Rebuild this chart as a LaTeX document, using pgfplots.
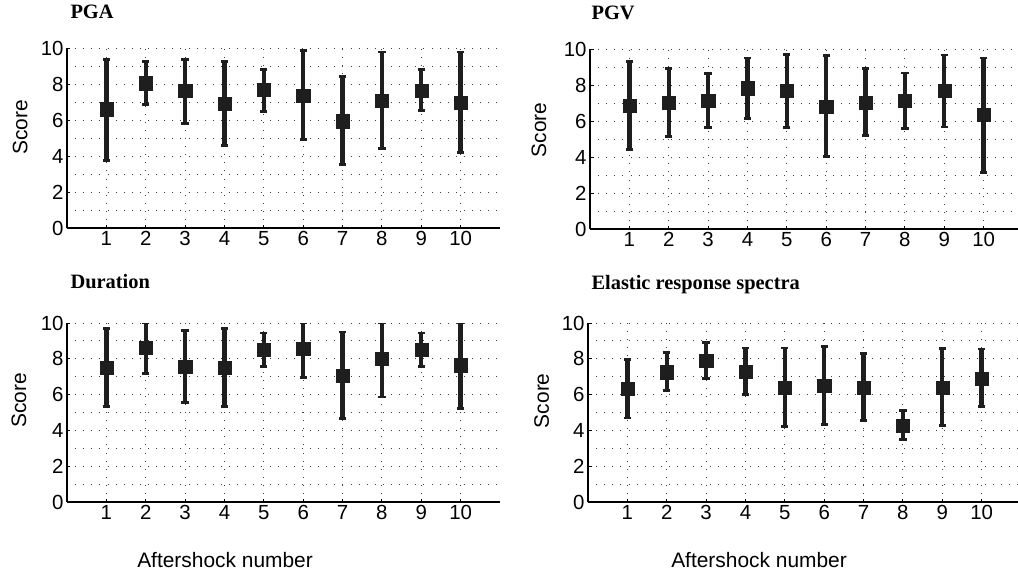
\documentclass[border=0pt]{standalone}
\usepackage{pgfplots}
\usepackage{pgfplotstable}
\pgfplotsset{compat=1.18}
\usepackage{fontspec}
\setmainfont{Liberation Sans}
\newfontfamily\titlefont{Liberation Serif}

\definecolor{barcol}{HTML}{1E1E1E}

\pgfplotstableread{
x y hi lo
1 6.60 9.38 3.75
2 8.05 9.25 6.85
3 7.63 9.38 5.80
4 6.90 9.25 4.60
5 7.68 8.80 6.48
6 7.37 9.85 4.90
7 5.94 8.43 3.52
8 7.07 9.78 4.40
9 7.65 8.80 6.52
10 6.98 9.78 4.20
}\pga

\pgfplotstableread{
x y hi lo
1 6.85 9.30 4.42
2 7.00 8.90 5.12
3 7.15 8.62 5.64
4 7.83 9.50 6.13
5 7.70 9.69 5.62
6 6.81 9.63 4.01
7 7.03 8.90 5.21
8 7.11 8.67 5.58
9 7.70 9.67 5.67
10 6.37 9.50 3.15
}\pgv

\pgfplotstableread{
x y hi lo
1 7.52 9.68 5.34
2 8.64 10.00 7.17
3 7.58 9.59 5.55
4 7.50 9.68 5.34
5 8.51 9.44 7.58
6 8.55 10.00 6.95
7 7.06 9.50 4.66
8 8.03 10.00 5.87
9 8.51 9.44 7.58
10 7.65 10.00 5.21
}\dur

\pgfplotstableread{
x y hi lo
1 6.33 7.95 4.69
2 7.26 8.36 6.22
3 7.91 8.92 6.91
4 7.30 8.60 6.00
5 6.41 8.60 4.23
6 6.50 8.70 4.32
7 6.41 8.29 4.56
8 4.28 5.10 3.48
9 6.41 8.57 4.26
10 6.91 8.55 5.34
}\ers

\pgfplotsset{
  myax/.style={
    scale only axis, width=433bp, height=180bp,
    xmin=0, xmax=11, ymin=0, ymax=10,
    xtick={1,...,10}, ytick={0,2,...,10}, minor ytick={1,3,...,9},
    grid=both,
    major grid style={black!75, line width=0.9bp, dash pattern=on 0.9bp off 7.2bp},
    minor grid style={black!75, line width=0.9bp, dash pattern=on 0.9bp off 7.2bp},
    axis x line=bottom, axis y line=left,
    axis line style={-, line width=1.2bp, black},
    tick align=inside,
    major tick length=3.5bp, minor tick length=0pt,
    tick style={black, line width=1bp},
    tick label style={font=\fontsize{20.5}{24}\selectfont},
    label style={font=\fontsize{21}{24}\selectfont},
    /pgf/number format/assume math mode=true,
    ylabel={Score},
    title style={anchor=base west, font=\titlefont\bfseries\fontsize{20.5}{24}\selectfont},
  },
  errplot/.style={
    only marks, mark=square*, mark size=6.6bp,
    mark options={fill=barcol, draw=barcol, line width=0.3bp},
    error bars/.cd, y dir=both, y explicit,
    error mark=|,
    error bar style={line width=4.3bp, barcol},
    error mark options={line width=2.7bp, mark size=3.6bp, barcol},
  },
}

\begin{document}
\begin{tikzpicture}
\useasboundingbox (0,0) rectangle (1018bp,-574bp);

\begin{axis}[myax, at={(67bp,-228bp)}, anchor=south west,
  title={PGA}, title style={at={(axis description cs:0,1)}, yshift=24bp},
  ylabel style={at={(axis description cs:-0.108,0.558)}, anchor=center}]
\addplot[errplot] table[x=x, y=y, y error plus expr=\thisrow{hi}-\thisrow{y}, y error minus expr=\thisrow{y}-\thisrow{lo}] {\pga};
\end{axis}

\begin{axis}[myax, at={(590bp,-229bp)}, anchor=south west,
  title={PGV}, title style={at={(axis description cs:0,1)}, yshift=24bp, xshift=-2bp},
  ylabel style={at={(axis description cs:-0.118,0.55)}, anchor=center}]
\addplot[errplot] table[x=x, y=y, y error plus expr=\thisrow{hi}-\thisrow{y}, y error minus expr=\thisrow{y}-\thisrow{lo}] {\pgv};
\end{axis}

\begin{axis}[myax, at={(67bp,-502bp)}, anchor=south west, height=179bp,
  title={Duration}, title style={at={(axis description cs:0,1)}, yshift=28.7bp},
  ylabel style={at={(axis description cs:-0.111,0.568)}, anchor=center},
  xlabel={Aftershock number},
  xlabel style={at={(axis description cs:0.365,0)}, anchor=base, yshift=-65bp}]
\addplot[errplot] table[x=x, y=y, y error plus expr=\thisrow{hi}-\thisrow{y}, y error minus expr=\thisrow{y}-\thisrow{lo}] {\dur};
\end{axis}

\begin{axis}[myax, at={(588bp,-502bp)}, anchor=south west, height=179bp,
  title={Elastic response spectra}, title style={at={(axis description cs:0,1)}, yshift=27.3bp},
  ylabel style={at={(axis description cs:-0.107,0.566)}, anchor=center},
  xlabel={Aftershock number},
  xlabel style={at={(axis description cs:0.395,0)}, anchor=base, yshift=-65bp}]
\addplot[errplot] table[x=x, y=y, y error plus expr=\thisrow{hi}-\thisrow{y}, y error minus expr=\thisrow{y}-\thisrow{lo}] {\ers};
\end{axis}
\end{tikzpicture}
\end{document}
